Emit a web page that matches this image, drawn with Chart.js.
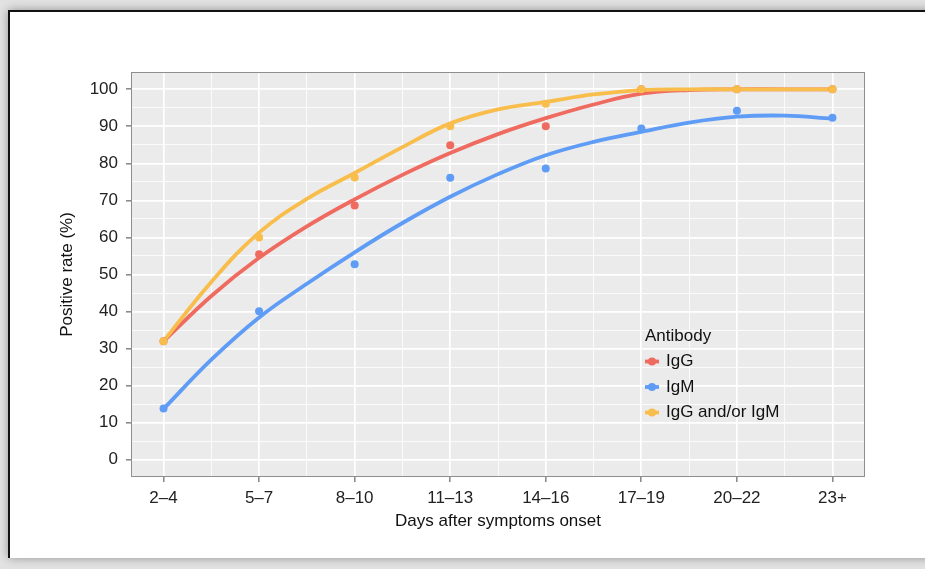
<!DOCTYPE html>
<html>
<head>
<meta charset="utf-8">
<script src="https://cdn.jsdelivr.net/npm/chart.js@4.4.1/dist/chart.umd.min.js"></script>
<style>
  html, body { margin: 0; padding: 0; }
  body { width: 925px; height: 569px; background: #e2e2e2; position: relative; overflow: hidden; }
  .frame {
    position: absolute; left: 8px; top: 10px; width: 960px; height: 546px;
    background: #fff; border-left: 2px solid #111; border-top: 2px solid #111;
    box-shadow: 0 0 9px rgba(0, 0, 0, 0.35);
  }
  #chart { position: absolute; left: 0; top: 0; }
</style>
</head>
<body>
<div class="frame"></div>
<canvas id="chart" width="925" height="569"></canvas>
<script>
// ---- data ----
const days = ['2–4', '5–7', '8–10', '11–13', '14–16', '17–19', '20–22', '23+'];
const antibodies = ['IgG', 'IgM', 'IgG and/or IgM'];

// observed positive rates (dots), one per group
const igGRate  = [32, 55.5, 68.6, 84.9, 90, 100, 100, 100];
const igMRate  = [13.8, 40.1, 52.8, 76.1, 78.6, 89.4, 94.2, 92.3];
const bothRate = [32, 60, 76.2, 90, 96.1, 100, 100, 100];

// smoothed fit curves, read every half group (group index 0, 0.5, 1, ... 7)
const fitAt   = [0, 0.5, 1, 1.5, 2, 2.5, 3, 3.5, 4, 4.5, 5, 5.5, 6, 6.5, 7];
const igGFit  = [32, 44.2, 54.5, 63, 70.3, 76.9, 82.8, 87.9, 92.2, 95.9, 98.8, 99.8, 100, 100, 100];
const igMFit  = [13.7, 27, 38.4, 47.5, 56, 63.9, 71, 77.1, 82.2, 85.8, 88.5, 91, 92.6, 92.9, 92.1];
const bothFit = [32, 48, 61.3, 70.4, 77.4, 84.4, 90.8, 94.6, 96.6, 98.6, 99.8, 100, 100, 100, 100];

const colors = ['#ef6a5f', '#5e9cf6', '#f8bd4b'];

Chart.defaults.font.family = "'Liberation Sans', Arial, Helvetica, sans-serif";
Chart.defaults.font.size = 17;
Chart.defaults.color = '#222';

const isInt = v => Math.abs(v - Math.round(v)) < 1e-6;

const fits = [igGFit, igMFit, bothFit];
const rates = [igGRate, igMRate, bothRate];

const datasets = [];
antibodies.forEach((name, i) => {
  datasets.push({
    type: 'line', label: name + ' fit',
    data: fits[i].map((v, k) => ({ x: fitAt[k], y: v })),
    borderColor: colors[i], borderWidth: 3.8, pointRadius: 0,
    tension: 0.4, fill: false, borderCapStyle: 'round',
    order: 5 - i
  });
  datasets.push({
    type: 'line', label: name,
    data: rates[i].map((v, k) => ({ x: k, y: v })), showLine: false,
    pointRadius: 4, pointBorderWidth: 0, pointBackgroundColor: colors[i],
    borderColor: colors[i], order: 2 - i
  });
});

// grey panel, border, and the inset legend
const panel = {
  id: 'panel',
  beforeDraw(chart) {
    const { ctx, chartArea: a } = chart;
    ctx.save();
    ctx.fillStyle = '#ebebeb';
    ctx.fillRect(a.left, a.top, a.width, a.height);
    ctx.restore();
  },
  afterDraw(chart) {
    const { ctx, chartArea: a } = chart;
    ctx.save();
    ctx.strokeStyle = '#8e8e8e';
    ctx.lineWidth = 1;
    ctx.strokeRect(a.left - 0.5, a.top - 0.5, a.width + 1, a.height + 1);

    const lx = a.left + 512, ly = a.top + 263;
    ctx.font = "17px 'Liberation Sans', Arial, sans-serif";
    ctx.textBaseline = 'middle';
    ctx.fillStyle = '#111';
    ctx.fillText('Antibody', lx + 1, ly);
    antibodies.forEach((name, i) => {
      const y = ly + 25.5 * (i + 1);
      ctx.strokeStyle = colors[i];
      ctx.lineWidth = 3.8;
      ctx.beginPath();
      ctx.moveTo(lx + 1, y);
      ctx.lineTo(lx + 15, y);
      ctx.stroke();
      ctx.fillStyle = colors[i];
      ctx.beginPath();
      ctx.arc(lx + 8, y, 4, 0, Math.PI * 2);
      ctx.fill();
      ctx.fillStyle = '#111';
      ctx.fillText(name, lx + 22, y);
    });
    ctx.restore();
  }
};

new Chart(document.getElementById('chart'), {
  type: 'line',
  data: { datasets },
  options: {
    responsive: false,
    animation: false,
    layout: { padding: { left: 53, top: 73, right: 61, bottom: 0 } },
    plugins: { legend: { display: false }, tooltip: { enabled: false } },
    scales: {
      x: {
        type: 'linear', min: -0.33, max: 7.33,
        afterBuildTicks: ax => {
          const t = [];
          for (let v = 0; v <= days.length - 1; v += 0.5) t.push({ value: v });
          ax.ticks = t;
        },
        afterFit: ax => { ax.height = 93; },
        border: { display: false },
        grid: {
          color: '#fff',
          lineWidth: c => (c.tick && isInt(c.tick.value)) ? 1.7 : 0.8,
          tickColor: c => (c.tick && isInt(c.tick.value)) ? '#666' : 'rgba(0,0,0,0)',
          tickWidth: 1.2,
          tickLength: 6
        },
        ticks: {
          padding: 6, color: '#222', autoSkip: false, maxRotation: 0,
          callback: v => isInt(v) ? days[Math.round(v)] : ''
        },
        title: {
          display: true, text: 'Days after symptoms onset', color: '#111',
          padding: { top: 4, bottom: 37 }
        }
      },
      y: {
        type: 'linear', min: -4.4, max: 104.4,
        afterBuildTicks: ax => {
          const t = [];
          for (let v = 0; v <= 100; v += 5) t.push({ value: v });
          ax.ticks = t;
        },
        afterFit: ax => { ax.width = 79; },
        border: { display: false },
        grid: {
          color: '#fff',
          lineWidth: c => (c.tick && c.tick.value % 10 === 0) ? 1.7 : 0.8,
          tickColor: c => (c.tick && c.tick.value % 10 === 0) ? '#666' : 'rgba(0,0,0,0)',
          tickWidth: 1.2,
          tickLength: 6
        },
        ticks: {
          padding: 8, color: '#222', autoSkip: false,
          callback: v => v % 10 === 0 ? v : ''
        },
        title: {
          display: true, text: 'Positive rate (%)', color: '#111',
          padding: { top: 4, bottom: 4 }
        }
      }
    }
  },
  plugins: [panel]
});
</script>
</body>
</html>
